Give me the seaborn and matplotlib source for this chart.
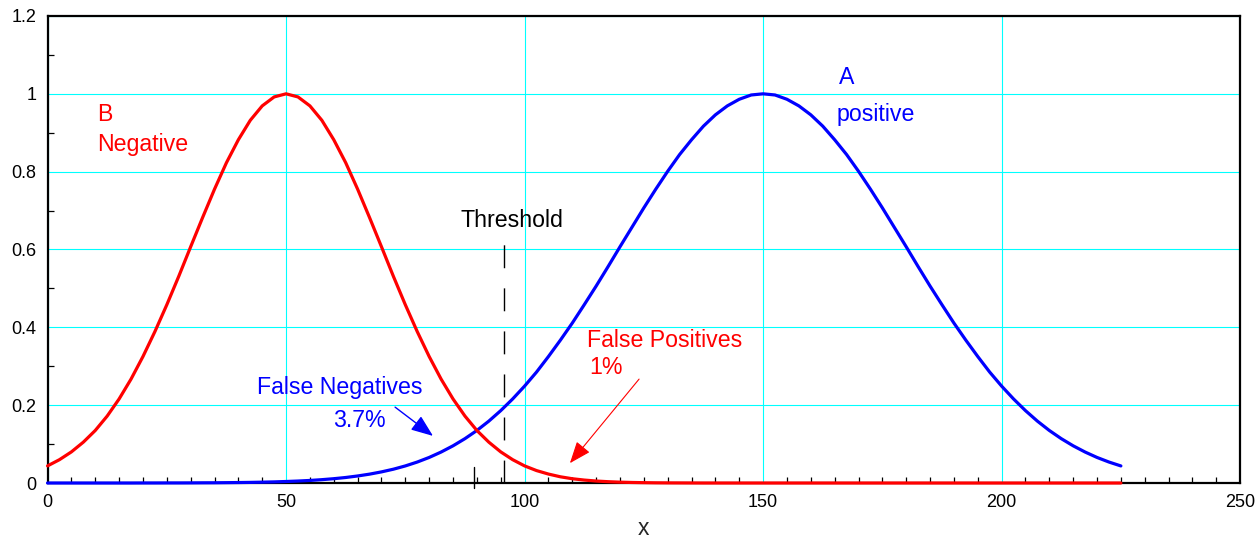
import matplotlib
matplotlib.use("Agg")
import matplotlib.pyplot as plt
from matplotlib.ticker import MultipleLocator
import seaborn as sns
import pandas as pd

# ---- data ----
x_values = [0, 2.5, 5, 7.5, 10, 12.5, 15, 17.5, 20, 22.5, 25, 27.5, 30, 32.5, 35, 37.5,
            40, 42.5, 45, 47.5, 50, 52.5, 55, 57.5, 60, 62.5, 65, 67.5, 70, 72.5, 75, 77.5,
            80, 82.5, 85, 87.5, 90, 92.5, 95, 97.5, 100, 102.5, 105, 107.5, 110, 112.5,
            115, 117.5, 120, 122.5, 125, 127.5, 130, 132.5, 135, 137.5, 140, 142.5, 145,
            147.5, 150, 152.5, 155, 157.5, 160, 162.5, 165, 167.5, 170, 172.5, 175, 177.5,
            180, 182.5, 185, 187.5, 190, 192.5, 195, 197.5, 200, 202.5, 205, 207.5, 210,
            212.5, 215, 217.5, 220, 222.5, 225]

negative_B = [0.044, 0.060, 0.080, 0.105, 0.135, 0.172, 0.216, 0.267, 0.325, 0.389,
              0.458, 0.531, 0.607, 0.682, 0.755, 0.823, 0.882, 0.932, 0.969, 0.992,
              1.000, 0.992, 0.969, 0.932, 0.882, 0.823, 0.755, 0.682, 0.607, 0.531,
              0.458, 0.389, 0.325, 0.267, 0.216, 0.172, 0.135, 0.105, 0.080, 0.060,
              0.044, 0.032, 0.023, 0.016, 0.011, 0.0076, 0.0051, 0.0034, 0.0022, 0.0014,
              0.0009, 0.0005, 0.0003, 0.0002, 0.0001,
              0, 0, 0, 0, 0, 0, 0, 0, 0, 0, 0, 0, 0, 0, 0, 0, 0, 0,
              0, 0, 0, 0, 0, 0, 0, 0, 0, 0, 0, 0, 0, 0, 0, 0, 0, 0]

positive_A = [0, 0, 0, 0, 0, 0, 0, 0, 0.0001, 0.0001, 0.0002, 0.0002, 0.0003, 0.0005,
              0.0006, 0.0009, 0.0012, 0.0016, 0.0022, 0.0029, 0.0039, 0.0051, 0.0066,
              0.0086, 0.0111, 0.0142, 0.0181, 0.0228, 0.0286, 0.0355, 0.0439, 0.0539,
              0.0657, 0.0796, 0.0956, 0.114, 0.135, 0.159, 0.186, 0.216, 0.249, 0.285,
              0.325, 0.367, 0.411, 0.458, 0.506, 0.556, 0.607, 0.657, 0.707, 0.755,
              0.801, 0.844, 0.882, 0.917, 0.946, 0.969, 0.986, 0.997, 1.000, 0.997,
              0.986, 0.969, 0.946, 0.917, 0.882, 0.844, 0.801, 0.755, 0.707, 0.657,
              0.607, 0.556, 0.506, 0.458, 0.411, 0.367, 0.325, 0.285, 0.249, 0.216,
              0.186, 0.159, 0.135, 0.114, 0.0956, 0.0796, 0.0657, 0.0539, 0.0439]

threshold_x = 95.7
threshold_top = 0.625
marker_x = 89.4

x_ticks = [0, 50, 100, 150, 200, 250]
y_ticks = [0, 0.2, 0.4, 0.6, 0.8, 1.0, 1.2]
y_tick_labels = ["0", "0.2", "0.4", "0.6", "0.8", "1", "1.2"]

# ---- style ----
sns.set_theme(style="white")
plt.rcParams["font.family"] = ["Liberation Sans", "DejaVu Sans"]

fig = plt.figure(figsize=(12.58, 5.38), dpi=100)
ax = fig.add_axes([0.0378, 0.1022, 0.948, 0.8681])

df = pd.DataFrame({"x": x_values, "A": positive_A, "B": negative_B})

sns.lineplot(data=df, x="x", y="A", ax=ax, color="#0000ff", linewidth=2.3,
             legend=False, zorder=4)
sns.lineplot(data=df, x="x", y="B", ax=ax, color="#ff0000", linewidth=2.3,
             legend=False, zorder=5)
for line in ax.lines:
    line.set_clip_on(False)

ax.set_xlim(0, 250)
ax.set_ylim(0, 1.2)

ax.set_xticks(x_ticks)
ax.set_yticks(y_ticks)
ax.set_yticklabels(y_tick_labels)
ax.xaxis.set_minor_locator(MultipleLocator(5))
ax.yaxis.set_minor_locator(MultipleLocator(0.1))

ax.grid(True, which="major", color="#00ffff", linewidth=0.8)
ax.set_axisbelow(True)

ax.tick_params(axis="both", which="major", length=0, labelsize=13, pad=8,
               labelcolor="black")
ax.tick_params(axis="both", which="minor", direction="in", length=4, width=0.9,
               color="black", bottom=True, left=True, top=False, right=False)

for s in ax.spines.values():
    s.set_color("black")
    s.set_linewidth(1.6)
    s.set_visible(True)

ax.set_xlabel("x", fontsize=16.5, labelpad=4)
ax.set_ylabel("")

# threshold dashed line and small marker
ax.plot([threshold_x, threshold_x], [0, threshold_top], color="black", linewidth=1.0,
        dashes=(16.5, 14.5), zorder=3)
ax.plot([marker_x, marker_x], [-0.012, 0.042], color="black", linewidth=1.0,
        clip_on=False, zorder=6)

fs = 16.7
ax.text(10.3, 0.929, "B", color="#ff0000", fontsize=fs, ha="left", va="baseline")
ax.text(10.3, 0.852, "Negative", color="#ff0000", fontsize=fs, ha="left", va="baseline")
ax.text(166.0, 1.025, "A", color="#0000ff", fontsize=fs, ha="left", va="baseline")
ax.text(165.3, 0.929, "positive", color="#0000ff", fontsize=fs, ha="left", va="baseline")
ax.text(86.5, 0.659, "Threshold", color="black", fontsize=fs, ha="left", va="baseline")
ax.text(43.9, 0.228, "False Negatives", color="#0000ff", fontsize=fs, ha="left",
        va="baseline")
ax.text(59.9, 0.145, "3.7%", color="#0000ff", fontsize=fs, ha="left", va="baseline")
ax.text(113.0, 0.349, "False Positives", color="#ff0000", fontsize=fs, ha="left",
        va="baseline")
ax.text(113.6, 0.279, "1%", color="#ff0000", fontsize=fs, ha="left", va="baseline")

ax.annotate("", xy=(80.8, 0.121), xytext=(72.85, 0.195),
            arrowprops=dict(arrowstyle="-|>,head_length=0.9,head_width=0.35",
                            color="#0000ff", lw=1.0, mutation_scale=15,
                            shrinkA=0, shrinkB=0), zorder=7)
ax.annotate("", xy=(109.5, 0.051), xytext=(124.0, 0.267),
            arrowprops=dict(arrowstyle="-|>,head_length=0.9,head_width=0.35",
                            color="#ff0000", lw=0.8, mutation_scale=15,
                            shrinkA=0, shrinkB=0), zorder=7)

fig.savefig("out.png", dpi=100)
